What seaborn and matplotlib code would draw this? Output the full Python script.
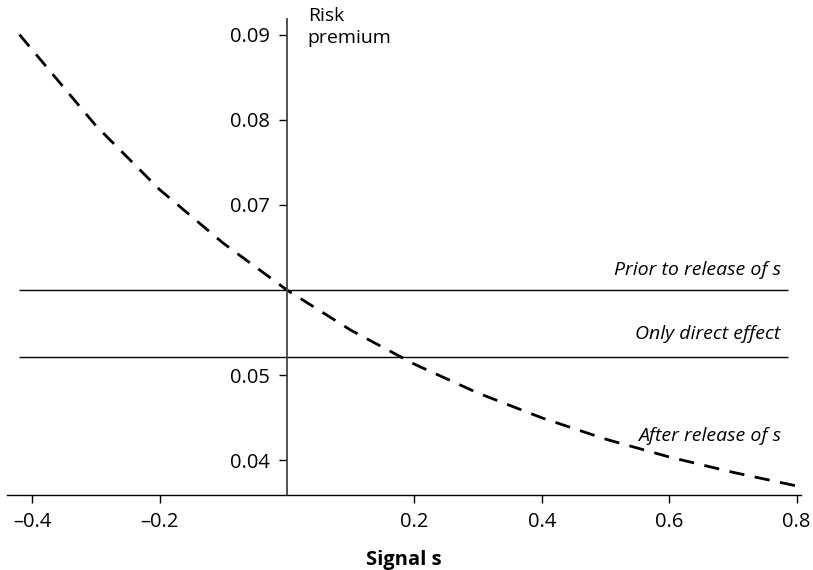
import matplotlib
matplotlib.use("Agg")
import matplotlib.pyplot as plt
import seaborn as sns
import pandas as pd

# Data
signal = [-0.42, -0.3, -0.2, -0.1, 0.0, 0.1, 0.2, 0.3, 0.4, 0.5, 0.6, 0.7, 0.8]
after_release = [0.0900, 0.0793, 0.0718, 0.0655, 0.0600, 0.0553, 0.0513,
                 0.0479, 0.0450, 0.0425, 0.0404, 0.0386, 0.0370]
prior_level = 0.060
direct_level = 0.0522
x_ticks = [-0.4, -0.2, 0.2, 0.4, 0.6, 0.8]
x_ticklabels = ["\u20130.4", "\u20130.2", "0.2", "0.4", "0.6", "0.8"]
y_ticks = [0.04, 0.05, 0.07, 0.08, 0.09]
y_ticklabels = ["0.04", "0.05", "0.07", "0.08", "0.09"]

sns.set_theme(style="ticks")
plt.rcParams["font.family"] = ["Open Sans", "DejaVu Sans"]
plt.rcParams["text.color"] = "black"

df = pd.DataFrame({"Signal": signal, "Risk": after_release})

fig = plt.figure(figsize=(8.13, 5.70), dpi=100)
ax = fig.add_axes([7 / 813, 1 - 495.3 / 570, 794 / 813, (495.3 - 19.3) / 570])

sns.lineplot(data=df, x="Signal", y="Risk", ax=ax, color="black",
             linewidth=2.0, linestyle=(0, (5.5, 3.8)))
ax.hlines([prior_level, direct_level], xmin=-0.42, xmax=0.787,
          color="black", linewidth=1.0)

ax.set_xlim(-0.4396, 0.8069)
ax.set_ylim(0.0359, 0.0918)

ax.spines["top"].set_visible(False)
ax.spines["right"].set_visible(False)
ax.spines["left"].set_position(("data", 0))
ax.spines["left"].set_color("#444444")
ax.spines["left"].set_linewidth(1.3)
ax.spines["bottom"].set_color("black")
ax.spines["bottom"].set_linewidth(1.0)

ax.set_xticks(x_ticks)
ax.set_xticklabels(x_ticklabels)
ax.set_yticks(y_ticks)
ax.set_yticklabels(y_ticklabels)
ax.tick_params(axis="both", labelsize=14.5, length=6, width=1.0,
               color="black", direction="out", pad=6, labelcolor="black")
ax.set_xlabel("Signal s", fontsize=14.5, fontweight="bold", labelpad=13,
              color="black")
ax.set_ylabel("")

ax.text(0.0325, 0.0933, "Risk\npremium", fontsize=14, va="top", ha="left",
        linespacing=1.3, color="black", clip_on=False)
ax.text(0.775, 0.0623, "Prior to release of s", fontsize=14,
        style="italic", ha="right", va="center", color="black")
ax.text(0.775, 0.0548, "Only direct effect", fontsize=14,
        style="italic", ha="right", va="center", color="black")
ax.text(0.775, 0.0429, "After release of s", fontsize=14,
        style="italic", ha="right", va="center", color="black")

fig.savefig("out.png", dpi=100)
